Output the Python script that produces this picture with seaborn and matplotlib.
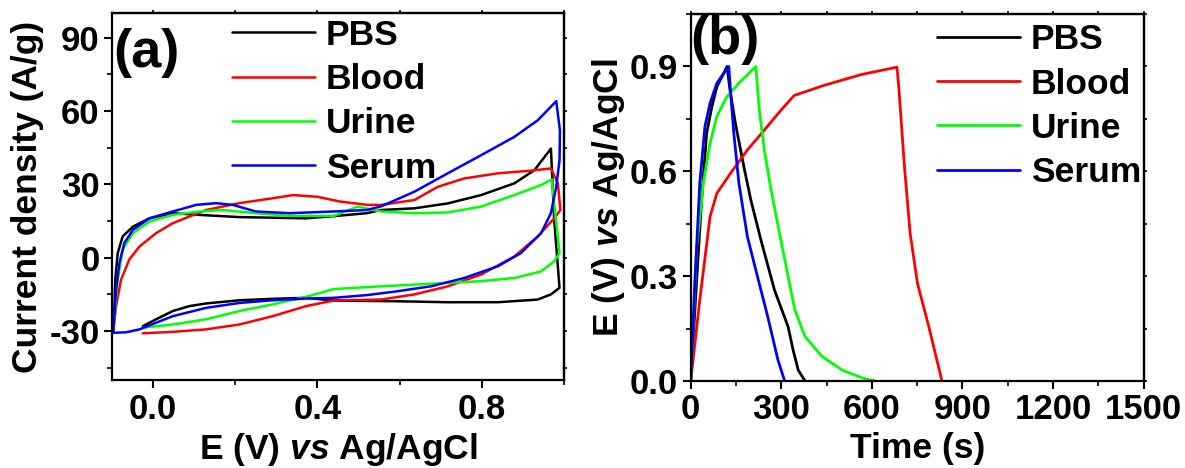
import numpy as np
import pandas as pd
import matplotlib
matplotlib.use("Agg")
import matplotlib.pyplot as plt
from matplotlib.ticker import MultipleLocator, FormatStrFormatter
import seaborn as sns

# ---- data ----
samples = ["PBS", "Blood", "Urine", "Serum"]
colors = ["#000000", "#FF0000", "#00FF00", "#0000FF"]

# (a) cyclic voltammograms, upper branch left->right then lower branch right->left
cv_pbs_E = [-0.097, -0.094, -0.092, -0.086, -0.074, -0.049, -0.009, 0.048, 0.113, 0.21, 0.372, 0.44, 0.52,
            0.555, 0.636, 0.717, 0.798, 0.879, 0.928, 0.968, 0.976, 0.989, 0.968, 0.936, 0.839, 0.717,
            0.595, 0.44, 0.372, 0.291, 0.21, 0.129, 0.088, 0.048, 0.007, -0.025]
cv_pbs_I = [-30, -20, -9, 1.9, 8.7, 12.7, 16.1, 18.2, 17.5, 16.6, 16.1, 17.0, 18.2,
            19.5, 20.2, 22.2, 25.6, 30.4, 35.8, 44.6, 15.5, -12.3, -15, -17.1, -18.2, -18.2,
            -17.8, -17.5, -16.4, -16.8, -17.4, -18.7, -19.8, -21.8, -25.2, -28]

cv_blood_E = [-0.097, -0.09, -0.078, -0.058, -0.033, 0.007, 0.048, 0.088, 0.129, 0.21, 0.291, 0.34, 0.40,
              0.457, 0.522, 0.555, 0.636, 0.693, 0.757, 0.839, 0.92, 0.968, 0.985, 0.991, 0.976, 0.936,
              0.879, 0.798, 0.717, 0.636, 0.555, 0.44, 0.372, 0.291, 0.21, 0.129, 0.048, -0.025]
cv_blood_I = [-30, -19.8, -9, -0.8, 4.6, 10, 14.1, 16.8, 19.5, 22.3, 24.3, 25.6, 24.9,
              22.9, 21.6, 21.6, 23.6, 29, 32.4, 34.5, 35.6, 36.5, 30.4, 19.5, 16.1, 8.7,
              0.5, -6.9, -11.7, -15, -17.1, -17.5, -19.8, -23.9, -27.3, -29.3, -30.3, -30.9]

cv_urine_E = [-0.097, -0.086, -0.074, -0.049, -0.009, 0.048, 0.113, 0.17, 0.25, 0.332, 0.44, 0.498, 0.555,
              0.636, 0.717, 0.798, 0.879, 0.944, 0.97, 0.976, 0.989, 0.976, 0.944, 0.879, 0.798, 0.717,
              0.636, 0.555, 0.44, 0.372, 0.291, 0.21, 0.129, 0.048, -0.025]
cv_urine_I = [-30, -9, 3.3, 10, 14.8, 17.5, 18.9, 19.5, 18.2, 17.1, 17.1, 20.9, 18.9,
              18.2, 18.5, 20.9, 25.6, 29.7, 32, 22.2, 1.9, -1.5, -5.6, -8.3, -9.6, -10.3,
              -11, -11.7, -12.8, -16, -19.1, -21.8, -25.2, -27.3, -28.6]

cv_serum_E = [-0.097, -0.09, -0.082, -0.07, -0.049, -0.009, 0.048, 0.105, 0.153, 0.194, 0.25, 0.332, 0.44,
              0.52, 0.555, 0.636, 0.717, 0.798, 0.879, 0.936, 0.981, 0.99, 0.989, 0.981, 0.968, 0.944,
              0.895, 0.839, 0.757, 0.676, 0.595, 0.52, 0.44, 0.372, 0.291, 0.21, 0.129, 0.048,
              0.007, -0.033, -0.066, -0.097]
cv_serum_I = [-30.7, -13, -2.2, 6, 11.4, 16.1, 18.9, 21.6, 22.3, 21.6, 18.9, 18.2, 18.9,
              19.5, 21, 27, 34.5, 41.9, 49.4, 56.2, 64, 52, 39.9, 29, 18.2, 10,
              1.9, -3.5, -8.3, -11.7, -13.7, -15.3, -16.4, -16.7, -17.4, -18.5, -20.5, -23.9,
              -26.6, -29.3, -30.5, -30.7]

# (b) galvanostatic charge/discharge
gcd_pbs_t = [0, 19, 36, 52.8, 70, 86.5, 109, 120, 131.5, 148, 176, 199, 232.6, 277.5, 322.5, 339, 356, 378.6]
gcd_pbs_V = [0, 0.28, 0.518, 0.709, 0.785, 0.842, 0.88, 0.9, 0.823, 0.737, 0.613, 0.518, 0.403, 0.26,
             0.155, 0.089, 0.031, 0]

gcd_blood_t = [0, 30, 64, 86.5, 131.5, 187.6, 243.8, 300, 342.8, 442, 565.7, 683, 689, 708, 726.6, 751,
               788.6, 832]
gcd_blood_V = [0, 0.232, 0.47, 0.537, 0.594, 0.661, 0.718, 0.776, 0.817, 0.846, 0.877, 0.898, 0.841,
               0.612, 0.423, 0.279, 0.155, 0]

gcd_urine_t = [0, 19, 41.6, 64, 86.5, 120, 159.5, 215.7, 227, 243.8, 266, 294, 322.5, 345, 378.6, 434.8,
               502, 570, 609]
gcd_urine_V = [0, 0.375, 0.566, 0.68, 0.757, 0.814, 0.852, 0.9, 0.776, 0.661, 0.547, 0.423, 0.299,
               0.203, 0.127, 0.07, 0.031, 0.008, 0]

gcd_serum_t = [0, 13.5, 30, 47, 64, 86.5, 109, 126, 131.5, 142.7, 159.5, 187.6, 221, 255, 288.8, 311]
gcd_serum_V = [0, 0.28, 0.566, 0.728, 0.795, 0.852, 0.88, 0.9, 0.833, 0.709, 0.566, 0.413, 0.299,
               0.184, 0.06, 0]


def long_frame(xs, ys):
    parts = []
    for name, x, y in zip(samples, xs, ys):
        parts.append(pd.DataFrame({"x": x, "y": y, "sample": name}))
    return pd.concat(parts, ignore_index=True)


cv_df = long_frame([cv_pbs_E, cv_blood_E, cv_urine_E, cv_serum_E],
                   [cv_pbs_I, cv_blood_I, cv_urine_I, cv_serum_I])
gcd_df = long_frame([gcd_pbs_t, gcd_blood_t, gcd_urine_t, gcd_serum_t],
                    [gcd_pbs_V, gcd_blood_V, gcd_urine_V, gcd_serum_V])

# ---- style ----
sns.set_style("ticks")
plt.rcParams["font.family"] = ["Liberation Sans", "DejaVu Sans"]
plt.rcParams.update({
    "font.weight": "bold",
    "axes.labelweight": "bold",
    "axes.linewidth": 1.6,
    "axes.unicode_minus": False,
    "text.color": "black",
    "axes.labelcolor": "black",
    "axes.edgecolor": "black",
    "xtick.color": "black",
    "ytick.color": "black",
    "mathtext.fontset": "custom",
    "mathtext.it": "Liberation Sans:italic:bold",
    "mathtext.rm": "Liberation Sans:bold",
})
palette = dict(zip(samples, colors))

fig = plt.figure(figsize=(11.85, 4.68), dpi=100)
ax1 = fig.add_axes([0.0945, 0.188, 0.3815, 0.784])
ax2 = fig.add_axes([0.5829, 0.186, 0.3822, 0.784])


def style_axis(ax, xmaj, xmin, ymaj, ymin):
    ax.xaxis.set_major_locator(MultipleLocator(xmaj))
    ax.xaxis.set_minor_locator(MultipleLocator(xmin))
    ax.yaxis.set_major_locator(MultipleLocator(ymaj))
    ax.yaxis.set_minor_locator(MultipleLocator(ymin))
    ax.tick_params(which="major", direction="out", length=6, width=1.5, labelsize=25, pad=3)
    ax.tick_params(which="minor", direction="out", length=3.5, width=1.2)
    for lab in ax.get_xticklabels() + ax.get_yticklabels():
        lab.set_fontweight("bold")
    # short mirrored ticks on top and right
    top = ax.secondary_xaxis("top")
    top.xaxis.set_major_locator(MultipleLocator(xmaj))
    top.xaxis.set_minor_locator(MultipleLocator(xmin))
    top.tick_params(which="both", direction="out", length=2.5, width=1.2, labeltop=False)
    right = ax.secondary_yaxis("right")
    right.yaxis.set_major_locator(MultipleLocator(ymaj))
    right.yaxis.set_minor_locator(MultipleLocator(ymin))
    right.tick_params(which="both", direction="out", length=2.5, width=1.2, labelright=False)
    for sp in ax.spines.values():
        sp.set_visible(True)
        sp.set_linewidth(1.6)
        sp.set_color("black")


def place_legend(ax, anchor):
    sns.move_legend(ax, "upper left", bbox_to_anchor=anchor, frameon=False, title=None,
                    fontsize=25.5, handlelength=2.35, handletextpad=0.3, labelspacing=0.32,
                    borderpad=0, borderaxespad=0)
    for t in ax.get_legend().get_texts():
        t.set_fontweight("bold")
        t.set_color("black")


# ---- (a) CV ----
sns.lineplot(data=cv_df, x="x", y="y", hue="sample", hue_order=samples, palette=palette,
             sort=False, estimator=None, linewidth=1.8, ax=ax1)
ax1.set_xlim(-0.1, 1.0)
ax1.set_ylim(-50, 100)
style_axis(ax1, 0.4, 0.2, 30, 15)
ax1.set_xlabel(r"E (V) $vs$ Ag/AgCl", fontsize=25.5, fontweight="bold")
ax1.set_ylabel("Current density (A/g)", fontsize=25.5, fontweight="bold")
ax1.xaxis.set_major_formatter(FormatStrFormatter("%.1f"))
ax1.yaxis.set_label_coords(-0.15, 0.5)
ax1.text(0.003, 0.89, "(a)", transform=ax1.transAxes, fontsize=39, fontweight="bold",
         ha="left", va="center")
place_legend(ax1, (0.265, 0.985))

# ---- (b) GCD ----
sns.lineplot(data=gcd_df, x="x", y="y", hue="sample", hue_order=samples, palette=palette,
             sort=False, estimator=None, linewidth=2.0, ax=ax2)
ax2.set_xlim(0, 1500)
ax2.set_ylim(0, 1.05)
style_axis(ax2, 300, 150, 0.3, 0.15)
ax2.set_xlabel("Time (s)", fontsize=25.5, fontweight="bold")
ax2.set_ylabel(r"E (V) $vs$ Ag/AgCl", fontsize=25.5, fontweight="bold")
ax2.yaxis.set_label_coords(-0.14, 0.5)
ax2.text(0.0, 0.93, "(b)", transform=ax2.transAxes, fontsize=39, fontweight="bold",
         ha="left", va="center")
place_legend(ax2, (0.544, 0.975))

fig.savefig("out.png", dpi=100)
